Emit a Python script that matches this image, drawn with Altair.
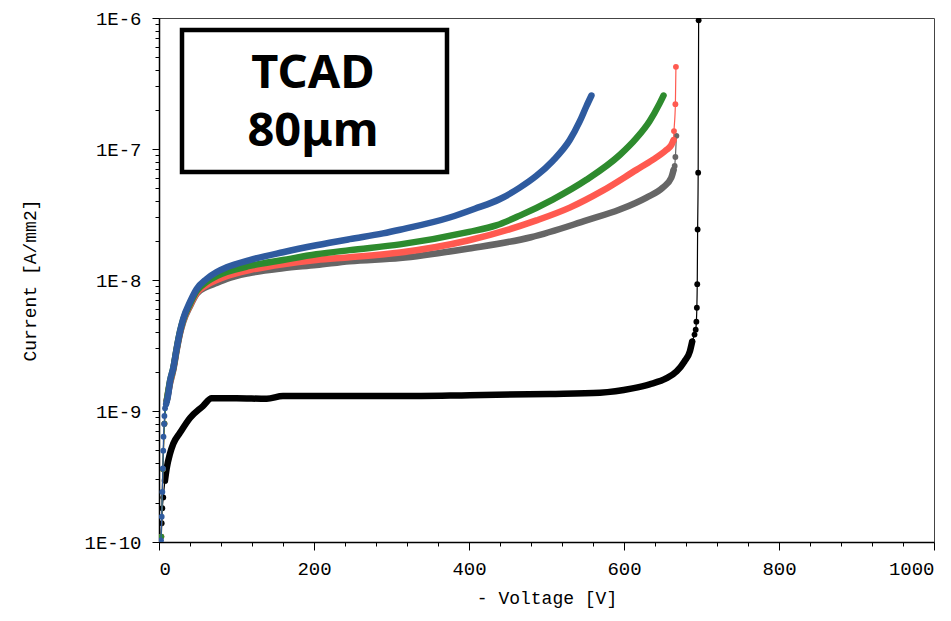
import altair as alt
import pandas as pd

# ---------------- data ----------------
# black curve
black_head_v = [0.3, 1.3, 3.5, 4.3, 5.5, 7.7]
black_head_i = [1.0e-10, 1.05e-10, 1.39e-10, 1.81e-10, 2.19e-10, 2.95e-10]
black_body_v = [7.7, 9.9, 14.2, 18.4, 27, 40, 56.7, 68, 100, 139, 160, 230, 311, 401, 504, 569, 611, 633, 655,
                668, 678, 685, 688]
black_body_i = [2.95e-10, 3.64e-10, 4.72e-10, 5.62e-10, 6.81e-10, 8.85e-10, 1.09e-9, 1.25e-9, 1.25e-9, 1.24e-9,
                1.30e-9, 1.30e-9, 1.30e-9, 1.32e-9, 1.35e-9, 1.38e-9, 1.49e-9, 1.60e-9, 1.78e-9, 2.01e-9,
                2.39e-9, 2.85e-9, 3.39e-9]
black_tail_v = [688, 691, 692.5, 693.4, 694, 694.5, 695, 695.7, 696.3]
black_tail_i = [3.39e-9, 3.83e-9, 4.18e-9, 4.81e-9, 6.14e-9, 9.3e-9, 2.43e-8, 6.6e-8, 9.6e-7]

# gray curve
gray_head_v = [3, 5, 7, 10]
gray_head_i = [1.1e-10, 3.6e-10, 8.0e-10, 1.2e-9]
gray_body_v = [10, 14.2, 18.4, 22.8, 27.1, 31.3, 40, 48.6, 61.5, 74.4, 87.3, 117, 160, 203, 246, 311,
               400, 480, 551.5, 594.5, 629, 650, 661, 664]
gray_body_i = [1.2e-9, 1.62e-9, 2.05e-9, 2.9e-9, 3.9e-9, 4.8e-9, 6.3e-9, 7.83e-9,
               8.85e-9, 9.48e-9, 1.02e-8, 1.13e-8, 1.23e-8, 1.30e-8, 1.39e-8, 1.47e-8, 1.74e-8, 2.12e-8,
               2.85e-8, 3.45e-8, 4.26e-8, 5.07e-8, 6.03e-8, 6.93e-8]
gray_tail_v = [664, 665.4, 666.3, 667.6]
gray_tail_i = [6.93e-8, 7.43e-8, 8.69e-8, 1.26e-7]

# red curve
red_head_v = [3, 5, 7, 10]
red_head_i = [1.1e-10, 3.6e-10, 8.0e-10, 1.2e-9]
red_body_v = [10, 14.2, 18.4, 22.8, 27.1, 31.3, 40, 48.6, 61.5, 74.4, 87.3, 117, 160, 203, 246, 311,
              400, 487, 530, 572.5, 616, 637, 654.7, 661, 664]
red_body_i = [1.2e-9, 1.65e-9, 2.08e-9, 2.95e-9, 3.95e-9, 4.9e-9, 6.4e-9, 7.97e-9,
              9.16e-9, 1.0e-8, 1.07e-8, 1.19e-8, 1.32e-8, 1.42e-8, 1.49e-8, 1.62e-8, 2.01e-8, 2.85e-8,
              3.57e-8, 4.81e-8, 6.93e-8, 8.26e-8, 9.83e-8, 1.07e-7, 1.17e-7]
red_tail_v = [664, 664.5, 666.3, 667]
red_tail_i = [1.17e-7, 1.37e-7, 2.2e-7, 4.24e-7]

# green curve
green_head_v = [3, 5, 7, 10]
green_head_i = [1.1e-10, 3.6e-10, 8.0e-10, 1.2e-9]
green_body_v = [10, 14.2, 18.4, 22.8, 27.1, 31.3, 40, 48.6, 61.5, 74.4, 87.3, 117, 160, 203, 246, 311,
                400, 435, 465.5, 508, 551.5, 594.5, 616, 633, 646, 651]
green_body_i = [1.2e-9, 1.69e-9, 2.12e-9, 3.0e-9, 4.04e-9, 5.0e-9, 6.58e-9, 8.25e-9,
                9.66e-9, 1.07e-8, 1.15e-8, 1.28e-8, 1.42e-8, 1.57e-8, 1.69e-8, 1.87e-8, 2.33e-8, 2.61e-8,
                3.1e-8, 4.11e-8, 5.82e-8, 9.0e-8, 1.21e-7, 1.63e-7, 2.23e-7, 2.56e-7]

# blue curve
blue_head_v = [2.6, 3.5, 4.3, 5.0, 5.5, 5.8, 6.7, 7.0, 7.8, 9.2]
blue_head_i = [1.03e-10, 1.56e-10, 2.41e-10, 3.64e-10, 4.98e-10, 6.36e-10, 7.97e-10, 9.17e-10, 1.05e-9, 1.13e-9]
blue_body_v = [9.2, 12, 14.2, 18.4, 22.8, 27.1, 31.3, 40, 48.6, 61.5, 74.4, 87.3, 117, 160, 203, 246, 289, 311,
               375, 407.5, 440, 465.5, 487, 508, 530, 543, 551.5, 558]
blue_body_i = [1.13e-9, 1.35e-9, 1.69e-9, 2.12e-9, 3.0e-9, 4.04e-9, 5.07e-9, 6.81e-9, 8.55e-9, 1.02e-8, 1.15e-8,
               1.25e-8, 1.42e-8, 1.63e-8, 1.84e-8, 2.05e-8, 2.27e-8, 2.42e-8, 3.0e-8, 3.5e-8, 4.15e-8,
               5.07e-8, 6.24e-8, 8.11e-8, 1.17e-7, 1.63e-7, 2.12e-7, 2.56e-7]

series_names = ["black", "gray", "red", "green", "blue"]
series_colors = ["#000000", "#666666", "#ff5a50", "#2e8b2e", "#2f5b9f"]

x_major = [0, 200, 400, 600, 800, 1000]
x_tick_values = list(range(0, 1001, 40))
y_major = [1e-10, 1e-9, 1e-8, 1e-7, 1e-6]
y_tick_values = [k * d for d in [1e-10, 1e-9, 1e-8, 1e-7] for k in range(1, 10)] + [1e-6]

box_lines = ["TCAD", "80μm"]

# ---------------- build table ----------------
parts = {
    "black": [("sparse", black_head_v, black_head_i), ("dense", black_body_v, black_body_i),
              ("sparse", black_tail_v, black_tail_i)],
    "gray": [("sparse", gray_head_v, gray_head_i), ("dense", gray_body_v, gray_body_i),
             ("sparse", gray_tail_v, gray_tail_i)],
    "red": [("sparse", red_head_v, red_head_i), ("dense", red_body_v, red_body_i),
            ("sparse", red_tail_v, red_tail_i)],
    "green": [("sparse", green_head_v, green_head_i), ("dense", green_body_v, green_body_i)],
    "blue": [("sparse", blue_head_v, blue_head_i), ("dense", blue_body_v, blue_body_i)],
}
rows = []
for name in series_names:
    seq = 0
    for part, vs, cs in parts[name]:
        for v, c in zip(vs, cs):
            rows.append({"series": name, "part": part, "V": v, "I": c, "seq": seq})
            seq += 1
df = pd.DataFrame(rows)

FONT = "Liberation Mono"
PLOT_W, PLOT_H = 775, 524

x_enc = alt.X("V:Q", scale=alt.Scale(domain=[0, 1000], nice=False),
              axis=alt.Axis(values=x_tick_values,
                            labelExpr="datum.value % 200 === 0 ? '' + datum.value : ''",
                            tickSize={"condition": {"test": "datum.value % 200 === 0", "value": 8}, "value": 4},
                            title="- Voltage [V]", titleX=PLOT_W / 2, titleY=56, titleBaseline="middle",
                            labelPadding=9))
y_test = "abs(log(datum.value)/LN10 - round(log(datum.value)/LN10)) < 0.001"
y_enc = alt.Y("I:Q", scale=alt.Scale(type="log", domain=[1e-10, 1e-6], nice=False),
              axis=alt.Axis(values=y_tick_values,
                            labelExpr=y_test + " ? '1E' + round(log(datum.value)/LN10) : ''",
                            tickSize={"condition": {"test": y_test, "value": 7}, "value": 4},
                            title="Current [A/mm2]", titleX=-129, titleY=PLOT_H / 2, titleBaseline="middle",
                            labelPadding=11))

base = alt.Chart(df)
layers = []
for name, col in zip(series_names, series_colors):
    s = base.transform_filter(alt.datum.series == name)
    layers.append(
        s.transform_filter(alt.datum.part == "dense")
        .mark_line(color=col, strokeWidth=6.5, strokeCap="round", strokeJoin="round",
                   interpolate="monotone", clip=True)
        .encode(x=x_enc, y=y_enc, order="seq:Q")
    )
    layers.append(
        s.mark_line(color=col, strokeWidth=1.2, interpolate="monotone", clip=True)
        .encode(x=x_enc, y=y_enc, order="seq:Q")
    )
    layers.append(
        s.transform_filter(alt.datum.part == "sparse")
        .mark_circle(color=col, size=34, opacity=1, clip=True)
        .encode(x=x_enc, y=y_enc)
    )

box = alt.Chart(pd.DataFrame({"a": [0]})).mark_rect(
    fill="white", stroke="black", strokeWidth=4.5
).encode(x=alt.value(23), x2=alt.value(288), y=alt.value(12), y2=alt.value(154))

txt_df = pd.DataFrame({"t": box_lines, "k": [0, 1]})
txt1 = alt.Chart(txt_df).transform_filter(alt.datum.k == 0).mark_text(
    font="Noto Sans", fontWeight="bold", fontSize=47, baseline="middle", align="center", color="black"
).encode(text="t:N", x=alt.value(154), y=alt.value(56))
txt2 = alt.Chart(txt_df).transform_filter(alt.datum.k == 1).mark_text(
    font="Noto Sans", fontWeight="bold", fontSize=47, baseline="middle", align="center", color="black"
).encode(text="t:N", x=alt.value(154), y=alt.value(114))

chart = alt.layer(*layers, box, txt1, txt2).properties(
    width=PLOT_W, height=PLOT_H,
    autosize=alt.AutoSizeParams(type="none"),
    padding={"left": 151, "top": 10, "right": 8, "bottom": 66},
).configure_view(
    stroke="#444444", strokeWidth=1
).configure_axis(
    grid=False,
    domainColor="black", domainWidth=1.5,
    tickColor="black", tickWidth=1,
    labelFont=FONT, labelFontSize=19, labelColor="black",
    titleFont=FONT, titleFontSize=18, titleFontWeight="normal", titleColor="black",
)

chart.save("out.html", embed_options={"renderer": "svg", "actions": False})
